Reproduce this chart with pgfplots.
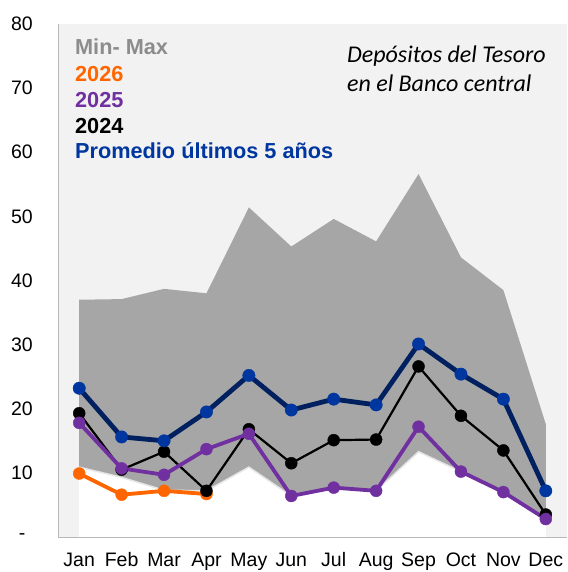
\documentclass[border=0pt]{standalone}
\usepackage{fontspec}
\setmainfont{Liberation Sans}
\newfontfamily\titlefont{Carlito}
\usepackage{pgfplots}
\pgfplotsset{compat=1.18}
\definecolor{bgGray}{HTML}{F2F2F2}
\definecolor{areaGray}{HTML}{A6A6A6}
\definecolor{cOrange}{HTML}{FF6600}
\definecolor{cPurple}{HTML}{7030A0}
\definecolor{cNavy}{HTML}{002060}
\definecolor{cBlue}{HTML}{0036A0}
\definecolor{cLegGray}{HTML}{8C8C8C}
\begin{document}
\begin{tikzpicture}
\useasboundingbox (-58pt,-35pt) rectangle (509pt,537pt);
\begin{axis}[
  scale only axis, width=509pt, height=513pt,
  xmin=-0.5, xmax=11.5, ymin=0, ymax=80,
  axis background/.style={fill=bgGray},
  axis lines*=left,
  axis line style={draw=black!28, line width=0.8pt},
  axis on top,
  clip=false,
  xtick={0,...,11},
  xticklabels={Jan,Feb,Mar,Apr,May,Jun,Jul,Aug,Sep,Oct,Nov,Dec},
  ytick={0,10,...,80},
  yticklabels={-,10,20,30,40,50,60,70,80},
  major tick length=0pt,
  tick label style={font=\fontsize{19.5}{23}\selectfont},
  yticklabel style={anchor=center, xshift=-36pt},
  xticklabel style={text height=14pt, text depth=0pt, yshift=-12pt},
]
% min-max band
\addplot[fill=areaGray, draw=none] coordinates {
(0,37.0) (1,37.1) (2,38.7) (3,38.0) (4,51.4) (5,45.3) (6,49.6) (7,46.1) (8,56.6) (9,43.6) (10,38.5) (11,17.6)} \closedcycle;
\addplot[fill=white, draw=none] coordinates {
(0,10.9) (1,9.3) (2,7.3) (3,7.2) (4,10.9) (5,6.4) (6,7.6) (7,7.2) (8,13.3) (9,10.2) (10,7.0) (11,2.8)} \closedcycle;
\addplot[draw=black!10, line width=1.5pt] coordinates {
(0,10.9) (1,9.3) (2,7.3) (3,7.2) (4,10.9) (5,6.4) (6,7.6) (7,7.2) (8,13.3) (9,10.2) (10,7.0) (11,2.8)};
% 2026
\addplot[cOrange, line width=3.8pt, mark=*, mark size=6pt, mark options={fill=cOrange, draw=cOrange, line width=0.4pt}] coordinates {
(0,9.9) (1,6.6) (2,7.2) (3,6.7)};
% 2024
\addplot[black, line width=2.2pt, mark=*, mark size=6pt, mark options={fill=black, draw=black, line width=0.4pt}] coordinates {
(0,19.3) (1,10.5) (2,13.3) (3,7.2) (4,16.8) (5,11.5) (6,15.1) (7,15.2) (8,26.6) (9,18.9) (10,13.5) (11,3.5)};
% 2025
\addplot[cPurple, line width=3.8pt, mark=*, mark size=6pt, mark options={fill=cPurple, draw=cPurple, line width=0.4pt}] coordinates {
(0,17.8) (1,10.7) (2,9.7) (3,13.7) (4,16.1) (5,6.4) (6,7.7) (7,7.2) (8,17.2) (9,10.2) (10,7.0) (11,2.8)};
% Promedio
\addplot[cNavy, line width=4.8pt, mark=*, mark size=6.2pt, mark options={fill=cBlue, draw=cBlue, line width=0.4pt}] coordinates {
(0,23.2) (1,15.6) (2,15.0) (3,19.5) (4,25.2) (5,19.8) (6,21.5) (7,20.6) (8,30.1) (9,25.4) (10,21.5) (11,7.2)};
% legend texts
\node[anchor=base west, inner sep=0pt, text=cLegGray, font=\fontsize{21.7}{25}\selectfont\bfseries] at (axis cs:-0.1,75.2) {Min- Max};
\node[anchor=base west, inner sep=0pt, text=cOrange, font=\fontsize{21.7}{25}\selectfont\bfseries] at (axis cs:-0.1,71.1) {2026};
\node[anchor=base west, inner sep=0pt, text=cPurple, font=\fontsize{21.7}{25}\selectfont\bfseries] at (axis cs:-0.1,67.0) {2025};
\node[anchor=base west, inner sep=0pt, text=black, font=\fontsize{21.7}{25}\selectfont\bfseries] at (axis cs:-0.1,63.0) {2024};
\node[anchor=base west, inner sep=0pt, text=cBlue, font=\fontsize{21.7}{25}\selectfont\bfseries] at (axis cs:-0.1,59.1) {Promedio últimos 5 años};
% title
\node[anchor=base west, inner sep=0pt, font=\titlefont\itshape\fontsize{24}{28}\selectfont] at (axis cs:6.31,74.05) {Depósitos del Tesoro};
\node[anchor=base west, inner sep=0pt, font=\titlefont\itshape\fontsize{24}{28}\selectfont] at (axis cs:6.31,69.55) {en el Banco central};
\end{axis}
\end{tikzpicture}
\end{document}
